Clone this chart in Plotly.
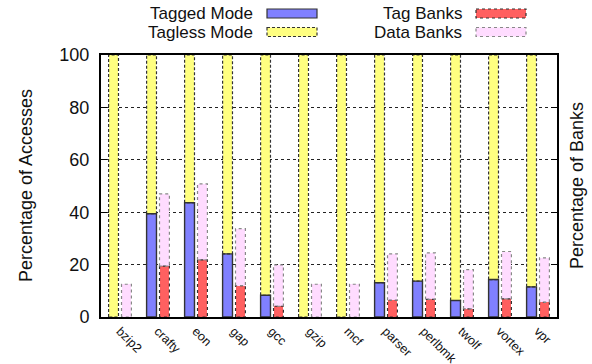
import plotly.graph_objects as go

# Benchmarks and measured percentages
benchmarks = ["bzip2", "crafty", "eon", "gap", "gcc", "gzip", "mcf",
              "parser", "perlbmk", "twolf", "vortex", "vpr"]
tagged_mode = [0.0, 39.4, 43.6, 24.1, 8.3, 0.0, 0.0, 13.1, 13.7, 6.3, 14.3, 11.5]
tagless_mode = [100 - v for v in tagged_mode]
tag_banks = [0.0, 19.4, 21.8, 12.0, 4.1, 0.0, 0.0, 6.4, 6.7, 3.1, 6.9, 5.6]
bank_totals = [12.5, 47.0, 50.8, 33.7, 19.9, 12.5, 12.5, 24.1, 24.5, 18.1, 25.0, 22.6]
data_banks = [t - g for t, g in zip(bank_totals, tag_banks)]

FONT = "Liberation Sans, Arial, Helvetica, sans-serif"
BLUE, YELLOW, RED, PINK = "#8080ff", "#ffff80", "#ff6060", "#ffdcff"

SHIFT = 0.17      # offset of each bar from its category centre
HALF = 0.13       # half bar width in category units

idx = list(range(len(benchmarks)))
x_acc = [i - SHIFT for i in idx]
x_bank = [i + SHIFT for i in idx]

fig = go.Figure()


def add_bar(xs, vals, color, name):
    fig.add_trace(go.Bar(x=xs, y=vals, width=2 * HALF, name=name,
                         marker=dict(color=color, line=dict(width=0)),
                         showlegend=False, hoverinfo="skip"))


def add_outline(xs, bases, vals, color, dash, width=1.2):
    px, py = [], []
    for x, b, v in zip(xs, bases, vals):
        if v <= 0:
            continue
        top = b + v
        px += [x - HALF, x - HALF, x + HALF, x + HALF, x - HALF, None]
        py += [b, top, top, b, b, None]
    fig.add_trace(go.Scatter(x=px, y=py, mode="lines",
                             line=dict(color=color, width=width, dash=dash),
                             showlegend=False, hoverinfo="skip"))


add_bar(x_acc, tagged_mode, BLUE, "Tagged Mode")
add_bar(x_acc, tagless_mode, YELLOW, "Tagless Mode")
add_bar(x_bank, tag_banks, RED, "Tag Banks")
add_bar(x_bank, data_banks, PINK, "Data Banks")

add_outline(x_acc, [0] * len(idx), tagged_mode, "#333333", "solid", 1.4)
add_outline(x_acc, tagged_mode, tagless_mode, "#333333", "3px,2px")
add_outline(x_bank, [0] * len(idx), tag_banks, "#333333", "dot")
add_outline(x_bank, tag_banks, data_banks, "#888888", "dot")

L, R, T, B = 101, 35, 55, 47
W, H = 592, 364
pw, ph = W - L - R, H - T - B


def px_x(p):
    return (p - L) / pw


def px_y(p):
    return (H - B - p) / ph


# Key in the top margin: label right-aligned, sample to its right
key = [
    ("Tagged Mode", 254, 267, 13.5, BLUE, "#333333", "solid"),
    ("Tagless Mode", 254, 267, 32.0, YELLOW, "#333333", "3px,2px"),
    ("Tag Banks", 463, 476, 13.5, RED, "#333333", "dot"),
    ("Data Banks", 463, 476, 32.0, PINK, "#888888", "dot"),
]
for label, tx, sx, cy, fill, lc, dash in key:
    fig.add_annotation(text=label, xref="paper", yref="paper",
                       x=px_x(tx), y=px_y(cy), xanchor="right", yanchor="middle",
                       showarrow=False, borderpad=0,
                       font=dict(family=FONT, size=17, color="#111"))
    fig.add_shape(type="rect", xref="paper", yref="paper",
                  x0=px_x(sx), x1=px_x(sx + 50), y0=px_y(cy - 4.5), y1=px_y(cy + 4.5),
                  fillcolor=fill, line=dict(color=lc, width=1.2, dash=dash))

fig.add_annotation(text="Percentage of Accesses", xref="paper", yref="paper",
                   x=px_x(26), y=0.5, textangle=-90, showarrow=False,
                   xanchor="center", yanchor="middle",
                   font=dict(family=FONT, size=18, color="#111"))
fig.add_annotation(text="Percentage of Banks", xref="paper", yref="paper",
                   x=px_x(577), y=0.5, textangle=-90, showarrow=False,
                   xanchor="center", yanchor="middle",
                   font=dict(family=FONT, size=18, color="#111"))

fig.update_layout(
    width=W, height=H, autosize=False,
    margin=dict(l=L, r=R, t=T, b=B, pad=0),
    barmode="stack", bargap=0,
    plot_bgcolor="white", paper_bgcolor="white",
    font=dict(family=FONT, color="#111"),
    xaxis=dict(range=[-0.5, len(idx) - 0.5], tickmode="array",
               tickvals=idx, ticktext=benchmarks, tickangle=45,
               tickfont=dict(size=12.5), ticks="", showgrid=False,
               showline=True, linecolor="black", linewidth=2, mirror=True,
               zeroline=False, automargin=False, ticklabelstandoff=0),
    yaxis=dict(range=[0, 100], tickvals=[0, 20, 40, 60, 80, 100],
               tickfont=dict(size=18), ticks="inside", ticklen=6,
               tickcolor="black", tickwidth=1,
               showline=True, linecolor="black", linewidth=2, mirror="ticks",
               showgrid=True, gridcolor="#222", griddash="dot", gridwidth=1,
               zeroline=False, ticklabelstandoff=6, automargin=False),
)

fig.write_html("out.html")
